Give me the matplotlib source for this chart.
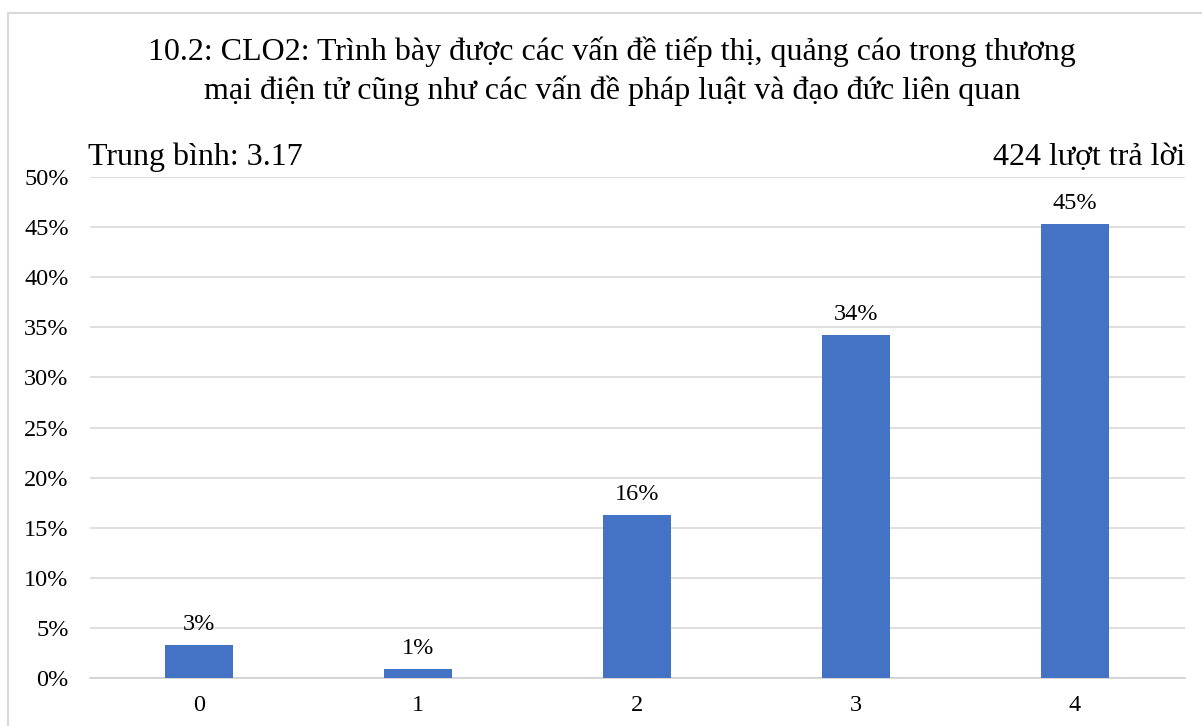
import matplotlib
matplotlib.use("Agg")
import matplotlib.pyplot as plt
from matplotlib.lines import Line2D

categories = ["0", "1", "2", "3", "4"]
percent = [3.30, 0.94, 16.27, 34.20, 45.28]
labels = ["3%", "1%", "16%", "34%", "45%"]
yticks = [0, 5, 10, 15, 20, 25, 30, 35, 40, 45, 50]
title = ("10.2: CLO2: Trình bày được các vấn đề tiếp thị, quảng cáo trong thương\n"
         "mại điện tử cũng như các vấn đề pháp luật và đạo đức liên quan")
mean_text = "Trung bình: 3.17"
count_text = "424 lượt trả lời"

plt.rcParams['font.family'] = ['Liberation Serif', 'DejaVu Serif']

W, H = 1202, 726
fig = plt.figure(figsize=(W / 100, H / 100), dpi=100)
ax = fig.add_axes([89.5 / W, 1 - 678 / H, (1184.5 - 89.5) / W, (678 - 177) / H])

x = list(range(len(categories)))
ax.bar(x, percent, width=0.31, color="#4472C4", zorder=3)
for xi, v, lab in zip(x, percent, labels):
    ax.text(xi, v + 1.0, lab, ha="center", va="bottom", fontsize=17.5, color="#000000")

ax.set_xlim(-0.5, 4.5)
ax.set_ylim(0, 50)
ax.set_yticks(yticks)
ax.set_yticklabels([f"{t}%" for t in yticks], fontsize=17.5)
ax.set_xticks(x)
ax.set_xticklabels(categories, fontsize=17.5)
ax.grid(axis="y", color="#d9d9d9", linewidth=1.2, zorder=0)
ax.set_axisbelow(True)
for s in ["top", "right", "left"]:
    ax.spines[s].set_visible(False)
ax.spines["bottom"].set_color("#d0d0d0")
ax.spines["bottom"].set_linewidth(1.2)
ax.tick_params(axis="both", length=0)
ax.tick_params(axis="y", pad=15)
ax.tick_params(axis="x", pad=12)

fig.text(612 / W, 1 - 71 / H, title, ha="center", va="center", fontsize=23, linespacing=1.38)
fig.text(88 / W, 1 - 157 / H, mean_text, ha="left", va="center", fontsize=23)
fig.text(1185 / W, 1 - 157 / H, count_text, ha="right", va="center", fontsize=23)

# outer chart border (partially visible)
fig.add_artist(Line2D([7.5 / W, 7.5 / W], [0, 1 - 12.5 / H], transform=fig.transFigure,
                      color="#d9d9d9", linewidth=1.5))
fig.add_artist(Line2D([7.5 / W, 1], [1 - 12.5 / H, 1 - 12.5 / H], transform=fig.transFigure,
                      color="#d9d9d9", linewidth=1.5))

fig.savefig("out.png", dpi=100)
